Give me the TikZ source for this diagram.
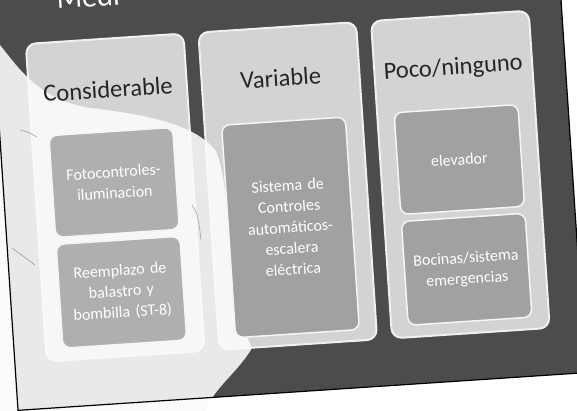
\documentclass[tikz,border=0pt]{standalone}
\usepackage{fontspec}
\setmainfont{Carlito}
\definecolor{fondo}{HTML}{4C4C4C}
\definecolor{panelgris}{HTML}{D3D3D3}
\definecolor{cajagris}{HTML}{A1A1A1}
\definecolor{brillo}{HTML}{FBFBFB}

\begin{document}
\begin{tikzpicture}[x=1pt,y=-1pt,
  diapo/.style={rotate around={3.8:(288,205)}},
  columna/.style={draw=white!88!gray,line width=2pt,fill=panelgris,rounded corners=10pt,
    minimum width=158pt,minimum height=318pt,inner sep=0pt,transform shape},
  cabecera/.style={anchor=base,font=\fontsize{24.5}{28}\selectfont,text=black!85,transform shape},
  caja/.style={draw=white!92!gray,line width=1.5pt,fill=cajagris,rounded corners=8pt,
    minimum width=124pt,text width=114pt,align=center,inner sep=0pt,text=white,
    font=\fontsize{16}{21}\selectfont,transform shape}]
  \useasboundingbox (0,0) rectangle (577,411);
  \clip (0,0) rectangle (577,411);
  \fill[white] (0,0) rectangle (577,411);

  % diapositiva y columnas
  \begin{scope}[diapo]
    \fill[fondo] (5,-100) rectangle (574,392);
    \node[anchor=base west,text=white,font=\fontsize{30}{34}\selectfont,transform shape] (titulo) at (67,-6) {Medi};
    \node[columna] (col1) at (116,186) {};
    \node[columna] (col2) at (289,186) {};
    \node[columna] (col3) at (462,186) {};
  \end{scope}

  % reflejo de luz sobre la foto
  \fill[brillo,opacity=.9] (0,45) .. controls (20,70) and (40,100) .. (90,108)
    .. controls (150,115) and (195,125) .. (215,150)
    .. controls (232,180) and (226,295) .. (252,348)
    .. controls (238,372) and (214,388) .. (205,411) -- (0,411) -- cycle;
  \draw[gray!60,line width=.8pt] (20,130) .. controls (28,132) .. (37,137);
  \draw[gray!70,line width=.8pt] (12,248) -- (35,265);
  \draw[gray!60,line width=.8pt] (192,205) .. controls (198,215) .. (201,240);

  % cabeceras y cajas interiores
  \begin{scope}[diapo]
    \draw[black,line width=1.2pt] (5,-100) rectangle (574,392);
    \node[cabecera] (cab1) at (116,86) {Considerable};
    \node[cabecera] (cab2) at (289,86) {Variable};
    \node[cabecera] (cab3) at (462,86) {Poco/ninguno};
    \node[caja,fill=cajagris!85!white,minimum height=102pt] (foto) at (116,171) {Fotocontroles-\\iluminacion};
    \node[caja,fill=cajagris!85!white,minimum height=104pt] (balastro) at (116,281) {Reemplazo de\\balastro y\\bombilla (ST-8)};
    \node[caja,minimum height=213pt] (controles) at (289,227.5) {Sistema de\\Controles\\automáticos-\\escalera\\eléctrica};
    \node[caja,minimum height=102pt] (elevador) at (462,171) {elevador};
    \node[caja,minimum height=104pt] (bocinas) at (462,281) {Bocinas/sistema\\emergencias};
  \end{scope}
\end{tikzpicture}
\end{document}
